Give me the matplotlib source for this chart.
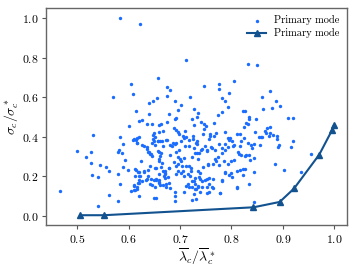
import numpy as np
import matplotlib
matplotlib.use("Agg")
import matplotlib.pyplot as plt

plt.rcParams["font.family"] = "serif"
plt.rcParams["font.serif"] = ["cmr10", "DejaVu Serif"]
plt.rcParams["mathtext.fontset"] = "cm"
plt.rcParams["axes.formatter.use_mathtext"] = True

lam_pts = [
    0.583, 0.622, 0.604, 0.608, 0.569, 0.658, 0.615, 0.674, 0.681, 0.674, 0.655, 0.647, 0.640,
    0.691, 0.702, 0.696, 0.640, 0.679, 0.621, 0.627, 0.635, 0.646, 0.660, 0.674, 0.690, 0.692,
    0.601, 0.663, 0.689, 0.692, 0.697, 0.698, 0.531, 0.650, 0.647, 0.659, 0.666, 0.584, 0.620,
    0.711, 0.720, 0.727, 0.735, 0.833, 0.850, 0.806, 0.775, 0.775, 0.747, 0.796, 0.875, 0.860,
    0.781, 0.787, 0.886, 0.895, 0.794, 0.862, 0.879, 0.782, 0.773, 0.822, 0.827, 0.834, 0.834,
    0.847, 0.733, 0.724, 0.740, 0.747, 0.750, 0.728, 0.766, 0.832, 0.910, 0.919, 0.747, 0.825,
    0.870, 0.875, 0.710, 0.771, 0.787, 0.759, 0.811, 0.817, 0.867, 0.876, 0.873, 0.858, 0.798,
    0.881, 0.888, 0.893, 0.891, 0.920, 0.916, 0.954, 0.884, 0.902, 0.935,
    0.467, 0.500, 0.517, 0.526, 0.527, 0.528, 0.540, 0.545, 0.556, 0.561, 0.541, 0.561, 0.579,
    0.583, 0.579, 0.579, 0.582, 0.587, 0.590, 0.592, 0.589, 0.599, 0.609, 0.615, 0.617, 0.605,
    0.610, 0.613, 0.617, 0.621, 0.611, 0.619, 0.620, 0.622, 0.614, 0.621, 0.629, 0.625, 0.629,
    0.636, 0.639, 0.644, 0.645, 0.649, 0.652, 0.658, 0.664, 0.658, 0.663, 0.642, 0.651, 0.659,
    0.660, 0.665, 0.667, 0.670, 0.674, 0.680, 0.690, 0.681, 0.688, 0.678, 0.649, 0.653, 0.660,
    0.670, 0.676, 0.633, 0.637, 0.645, 0.666, 0.660, 0.650, 0.654, 0.690, 0.691, 0.691, 0.697,
    0.697, 0.698, 0.702, 0.700,
    0.705, 0.711, 0.717, 0.725, 0.744, 0.766, 0.846, 0.865, 0.889, 0.709, 0.717, 0.727, 0.733,
    0.737, 0.743, 0.749, 0.752, 0.761, 0.768, 0.776, 0.781, 0.787, 0.794, 0.801, 0.806, 0.818,
    0.825, 0.832, 0.838, 0.844, 0.855, 0.813, 0.818, 0.829, 0.834, 0.837, 0.844, 0.800, 0.806,
    0.786, 0.794, 0.776, 0.768, 0.754, 0.744, 0.735, 0.722, 0.712, 0.705, 0.719, 0.730, 0.739,
    0.749, 0.756, 0.765, 0.724, 0.729, 0.735, 0.743, 0.753, 0.763, 0.724, 0.730, 0.738, 0.731,
    0.711, 0.708, 0.777, 0.787, 0.782, 0.800, 0.810, 0.816, 0.822, 0.811, 0.835, 0.844,
    0.829, 0.794, 0.796, 0.759, 0.756, 0.733, 0.854, 0.859, 0.841, 0.827, 0.844, 0.810, 0.778,
    0.782, 0.795, 0.802, 0.827, 0.822, 0.788, 0.754, 0.764, 0.771, 0.774, 0.781, 0.788, 0.752,
    0.762, 0.814, 0.817, 0.804, 0.733, 0.738, 0.736, 0.752, 0.743, 0.756, 0.764, 0.757, 0.752,
    0.735,
    0.708, 0.725, 0.732, 0.741, 0.648, 0.657, 0.662, 0.673, 0.667, 0.651, 0.616, 0.610, 0.617,
    0.627, 0.635, 0.638, 0.641, 0.646, 0.659, 0.662, 0.684, 0.686, 0.693, 0.692, 0.697, 0.702,
    0.708, 0.724, 0.729, 0.735, 0.654, 0.670, 0.663, 0.678, 0.693, 0.703, 0.717, 0.612, 0.619,
    0.629, 0.638, 0.613, 0.621, 0.635, 0.653, 0.659, 0.670, 0.668, 0.679, 0.693, 0.702, 0.708,
    0.715, 0.721, 0.727, 0.716, 0.644, 0.641, 0.660, 0.651, 0.662, 0.673, 0.627, 0.621, 0.611,
    0.616, 0.673, 0.680, 0.717, 0.724, 0.731, 0.727,
]
sig_pts = [
    1.000, 0.967, 0.667, 0.615, 0.600, 0.697, 0.531, 0.650, 0.638, 0.607, 0.597, 0.580, 0.569,
    0.582, 0.562, 0.537, 0.514, 0.516, 0.478, 0.483, 0.464, 0.464, 0.458, 0.476, 0.488, 0.494,
    0.454, 0.464, 0.444, 0.434, 0.426, 0.413, 0.411, 0.418, 0.409, 0.423, 0.428, 0.397, 0.397,
    0.786, 0.600, 0.542, 0.521, 0.768, 0.761, 0.680, 0.665, 0.642, 0.658, 0.622, 0.632, 0.602,
    0.598, 0.579, 0.579, 0.557, 0.552, 0.542, 0.544, 0.524, 0.511, 0.529, 0.529, 0.501, 0.489,
    0.489, 0.498, 0.489, 0.474, 0.463, 0.456, 0.458, 0.471, 0.463, 0.496, 0.496, 0.441, 0.449,
    0.443, 0.449, 0.429, 0.421, 0.423, 0.413, 0.413, 0.416, 0.419, 0.419, 0.406, 0.401, 0.396,
    0.409, 0.387, 0.357, 0.350, 0.380, 0.350, 0.312, 0.262, 0.230, 0.222,
    0.124, 0.328, 0.300, 0.323, 0.269, 0.209, 0.199, 0.259, 0.247, 0.227, 0.051, 0.104, 0.078,
    0.161, 0.214, 0.323, 0.333, 0.320, 0.363, 0.282, 0.247, 0.232, 0.385, 0.385, 0.368, 0.128,
    0.131, 0.133, 0.134, 0.103, 0.153, 0.169, 0.183, 0.202, 0.232, 0.224, 0.227, 0.279, 0.352,
    0.338, 0.322, 0.313, 0.368, 0.380, 0.397, 0.380, 0.380, 0.327, 0.318, 0.255, 0.242, 0.290,
    0.277, 0.267, 0.225, 0.210, 0.385, 0.357, 0.365, 0.310, 0.274, 0.240, 0.183, 0.184, 0.181,
    0.193, 0.199, 0.181, 0.202, 0.158, 0.158, 0.174, 0.091, 0.090, 0.119, 0.101, 0.075, 0.265,
    0.227, 0.333, 0.377, 0.287,
    0.406, 0.397, 0.385, 0.406, 0.416, 0.406, 0.423, 0.429, 0.406, 0.352, 0.352, 0.343, 0.365,
    0.318, 0.340, 0.352, 0.327, 0.347, 0.333, 0.365, 0.343, 0.363, 0.350, 0.380, 0.360, 0.380,
    0.393, 0.370, 0.357, 0.363, 0.360, 0.323, 0.310, 0.307, 0.310, 0.284, 0.294, 0.277, 0.282,
    0.277, 0.264, 0.257, 0.287, 0.264, 0.247, 0.227, 0.240, 0.252, 0.227, 0.202, 0.194, 0.186,
    0.181, 0.194, 0.186, 0.178, 0.164, 0.153, 0.144, 0.144, 0.144, 0.148, 0.136, 0.119, 0.086,
    0.153, 0.119, 0.118, 0.224, 0.181, 0.219, 0.227, 0.230, 0.235, 0.144, 0.161, 0.070,
    0.468, 0.393, 0.385, 0.405, 0.388, 0.377, 0.398, 0.398, 0.343, 0.305, 0.222, 0.139, 0.116,
    0.178, 0.206, 0.198, 0.239, 0.206, 0.215, 0.260, 0.265, 0.277, 0.299, 0.318, 0.335, 0.332,
    0.345, 0.315, 0.352, 0.355, 0.318, 0.219, 0.199, 0.189, 0.178, 0.161, 0.139, 0.119, 0.114,
    0.144,
    0.393, 0.388, 0.368, 0.335, 0.388, 0.381, 0.381, 0.385, 0.352, 0.360, 0.393, 0.388, 0.368,
    0.357, 0.348, 0.322, 0.315, 0.302, 0.322, 0.305, 0.352, 0.368, 0.368, 0.322, 0.299, 0.277,
    0.294, 0.299, 0.318, 0.289, 0.244, 0.227, 0.249, 0.244, 0.252, 0.252, 0.252, 0.235, 0.222,
    0.222, 0.232, 0.202, 0.202, 0.186, 0.189, 0.210, 0.219, 0.202, 0.169, 0.210, 0.215, 0.202,
    0.210, 0.227, 0.178, 0.161, 0.186, 0.161, 0.169, 0.144, 0.156, 0.161, 0.178, 0.169, 0.156,
    0.144, 0.144, 0.139, 0.144, 0.083, 0.136, 0.111,
]

# line: primary mode branch
lam_line = [0.506, 0.552, 0.843, 0.894, 0.922, 0.971, 0.996, 0.9995]
sig_line = [0.004, 0.004, 0.044, 0.071, 0.139, 0.310, 0.434, 0.457]

fig = plt.figure(figsize=(3.57, 2.68), dpi=100)
ax = fig.add_axes([0.13, 0.16, 0.842, 0.81])

ax.scatter(lam_pts, sig_pts, s=6, color="#1a6dff", linewidths=0, label="Primary mode")
ax.plot(lam_line, sig_line, color="#12528f", lw=1.5, marker="^", ms=4.5, label="Primary mode")

ax.set_xlim(0.44, 1.025)
ax.set_ylim(-0.046, 1.05)
ax.set_xticks([0.5, 0.6, 0.7, 0.8, 0.9, 1.0])
ax.set_yticks([0.0, 0.2, 0.4, 0.6, 0.8, 1.0])
ax.tick_params(labelsize=8.5, length=3, width=0.8, color="#555555", direction="out", pad=2.5)
for sp in ax.spines.values():
    sp.set_color("#666666")
    sp.set_linewidth(1.0)

ax.set_xlabel(r"$\overline{\lambda}_c/\overline{\lambda}_c^*$", fontsize=10, labelpad=1)
ax.set_ylabel(r"$\sigma_c/\sigma_c^*$", fontsize=10, labelpad=1)
ax.legend(loc="upper right", frameon=False, fontsize=7.5, numpoints=1,
          scatterpoints=1, handlelength=1.8, borderaxespad=0.3, labelspacing=0.3)

fig.savefig("out.png", dpi=100)
